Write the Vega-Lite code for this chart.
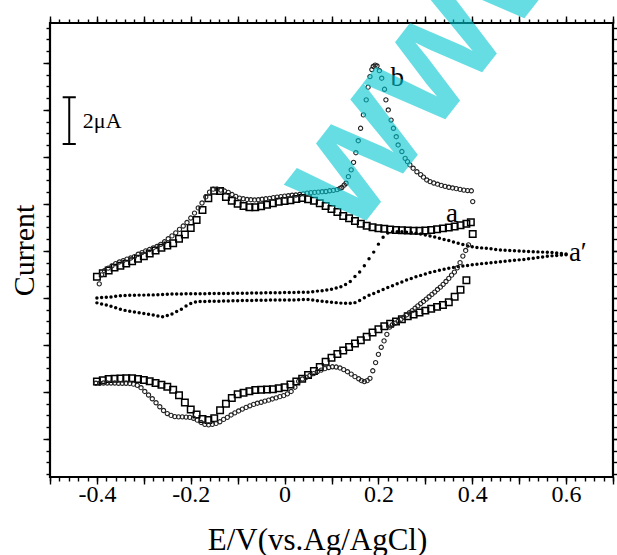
{
  "$schema": "https://vega.github.io/schema/vega-lite/v6.json",
  "width": 563,
  "height": 454,
  "autosize": {"type": "none"},
  "padding": {"left": 50, "top": 23, "right": 4, "bottom": 78},
  "background": "white",
  "config": {
    "view": {"stroke": "black", "strokeWidth": 2.2},
    "axis": {"domain": false, "grid": false, "tickColor": "black", "tickWidth": 1.4, "labelFont": "Liberation Serif", "titleFont": "Liberation Serif", "labelColor": "black", "titleColor": "black", "titleFontWeight": "normal", "labelOverlap": false, "labelFlush": false}
  },
  "resolve": {"axis": {"x": "independent", "y": "independent"}},
  "datasets": {
    "a": [
      {"x":-0.4,"y":-1.10},{"x":-0.3875,"y":-0.95},{"x":-0.375,"y":-0.83},{"x":-0.3625,"y":-0.71},{"x":-0.35,"y":-0.63},{"x":-0.3375,"y":-0.54},{"x":-0.325,"y":-0.44},{"x":-0.3125,"y":-0.33},{"x":-0.3,"y":-0.23},{"x":-0.2875,"y":-0.11},{"x":-0.275,"y":0.02},{"x":-0.2625,"y":0.14},{"x":-0.25,"y":0.23},{"x":-0.2375,"y":0.33},{"x":-0.225,"y":0.52},{"x":-0.2125,"y":0.70},{"x":-0.2,"y":0.98},{"x":-0.1875,"y":1.32},{"x":-0.175,"y":1.74},{"x":-0.1625,"y":2.24},{"x":-0.15,"y":2.56},{"x":-0.1375,"y":2.55},{"x":-0.125,"y":2.30},{"x":-0.1125,"y":2.14},{"x":-0.1,"y":2.01},{"x":-0.0875,"y":1.91},{"x":-0.075,"y":1.86},{"x":-0.0625,"y":1.86},{"x":-0.05,"y":1.90},{"x":-0.0375,"y":1.97},{"x":-0.025,"y":2.03},{"x":-0.0125,"y":2.09},{"x":0,"y":2.13},{"x":0.0125,"y":2.16},{"x":0.025,"y":2.21},{"x":0.0375,"y":2.25},{"x":0.05,"y":2.20},{"x":0.0625,"y":2.14},{"x":0.075,"y":2.03},{"x":0.0875,"y":1.91},{"x":0.1,"y":1.78},{"x":0.1125,"y":1.66},{"x":0.125,"y":1.49},{"x":0.1375,"y":1.39},{"x":0.15,"y":1.27},{"x":0.1625,"y":1.16},{"x":0.175,"y":1.07},{"x":0.1875,"y":1.01},{"x":0.2,"y":0.97},{"x":0.2125,"y":0.94},{"x":0.225,"y":0.91},{"x":0.2375,"y":0.89},{"x":0.25,"y":0.88},{"x":0.2625,"y":0.87},{"x":0.275,"y":0.86},{"x":0.2875,"y":0.86},{"x":0.3,"y":0.87},{"x":0.3125,"y":0.89},{"x":0.325,"y":0.92},{"x":0.3375,"y":0.96},{"x":0.35,"y":1.00},{"x":0.3625,"y":1.04},{"x":0.375,"y":1.09},{"x":0.3875,"y":1.16},{"x":0.397,"y":1.22},
      {"x":0.401,"y":0.72},{"x":0.3875,"y":-1.25},{"x":0.375,"y":-1.65},{"x":0.3625,"y":-1.95},{"x":0.35,"y":-2.18},{"x":0.3375,"y":-2.30},{"x":0.325,"y":-2.38},{"x":0.3125,"y":-2.46},{"x":0.3,"y":-2.54},{"x":0.2875,"y":-2.62},{"x":0.275,"y":-2.71},{"x":0.2625,"y":-2.78},{"x":0.25,"y":-2.91},{"x":0.2375,"y":-3.00},{"x":0.225,"y":-3.10},{"x":0.2125,"y":-3.20},{"x":0.2,"y":-3.33},{"x":0.1875,"y":-3.47},{"x":0.175,"y":-3.65},{"x":0.1625,"y":-3.80},{"x":0.15,"y":-3.94},{"x":0.1375,"y":-4.09},{"x":0.125,"y":-4.24},{"x":0.1125,"y":-4.39},{"x":0.1,"y":-4.55},{"x":0.0875,"y":-4.72},{"x":0.075,"y":-4.94},{"x":0.0625,"y":-5.11},{"x":0.05,"y":-5.28},{"x":0.0375,"y":-5.44},{"x":0.025,"y":-5.56},{"x":0.0125,"y":-5.68},{"x":0,"y":-5.80},{"x":-0.0125,"y":-5.84},{"x":-0.025,"y":-5.89},{"x":-0.0375,"y":-5.90},{"x":-0.05,"y":-5.91},{"x":-0.0625,"y":-5.92},{"x":-0.075,"y":-5.97},{"x":-0.0875,"y":-6.03},{"x":-0.1,"y":-6.10},{"x":-0.1125,"y":-6.26},{"x":-0.125,"y":-6.50},{"x":-0.1375,"y":-6.78},{"x":-0.15,"y":-7.12},{"x":-0.1625,"y":-7.19},{"x":-0.175,"y":-7.15},{"x":-0.1875,"y":-6.96},{"x":-0.2,"y":-6.75},{"x":-0.2125,"y":-6.45},{"x":-0.225,"y":-6.14},{"x":-0.2375,"y":-5.91},{"x":-0.25,"y":-5.78},{"x":-0.2625,"y":-5.69},{"x":-0.275,"y":-5.62},{"x":-0.2875,"y":-5.55},{"x":-0.3,"y":-5.49},{"x":-0.3125,"y":-5.45},{"x":-0.325,"y":-5.42},{"x":-0.3375,"y":-5.42},{"x":-0.35,"y":-5.43},{"x":-0.3625,"y":-5.44},{"x":-0.375,"y":-5.45},{"x":-0.3875,"y":-5.50},{"x":-0.4,"y":-5.56}
    ],
    "ap": [
      {"x":-0.40,"y":-2.00},{"x":-0.39,"y":-1.98},{"x":-0.38,"y":-1.97},{"x":-0.37,"y":-1.96},{"x":-0.36,"y":-1.93},{"x":-0.35,"y":-1.91},{"x":-0.34,"y":-1.90},{"x":-0.33,"y":-1.89},{"x":-0.32,"y":-1.89},{"x":-0.31,"y":-1.88},{"x":-0.30,"y":-1.88},{"x":-0.29,"y":-1.87},{"x":-0.28,"y":-1.87},{"x":-0.27,"y":-1.86},{"x":-0.26,"y":-1.85},{"x":-0.25,"y":-1.84},{"x":-0.24,"y":-1.83},{"x":-0.23,"y":-1.83},{"x":-0.22,"y":-1.83},{"x":-0.21,"y":-1.82},{"x":-0.20,"y":-1.82},{"x":-0.19,"y":-1.82},{"x":-0.18,"y":-1.82},{"x":-0.17,"y":-1.82},{"x":-0.16,"y":-1.81},{"x":-0.15,"y":-1.81},{"x":-0.14,"y":-1.81},{"x":-0.13,"y":-1.81},{"x":-0.12,"y":-1.81},{"x":-0.11,"y":-1.80},{"x":-0.10,"y":-1.80},{"x":-0.09,"y":-1.80},{"x":-0.08,"y":-1.80},{"x":-0.07,"y":-1.79},{"x":-0.06,"y":-1.79},{"x":-0.05,"y":-1.79},{"x":-0.04,"y":-1.78},{"x":-0.03,"y":-1.78},{"x":-0.02,"y":-1.78},{"x":-0.01,"y":-1.78},{"x":0.00,"y":-1.77},{"x":0.01,"y":-1.77},{"x":0.02,"y":-1.77},{"x":0.03,"y":-1.76},{"x":0.04,"y":-1.76},{"x":0.05,"y":-1.76},{"x":0.06,"y":-1.74},{"x":0.07,"y":-1.71},{"x":0.08,"y":-1.69},{"x":0.09,"y":-1.66},{"x":0.10,"y":-1.63},{"x":0.11,"y":-1.58},{"x":0.12,"y":-1.52},{"x":0.13,"y":-1.43},{"x":0.14,"y":-1.30},{"x":0.15,"y":-1.09},{"x":0.16,"y":-0.90},{"x":0.17,"y":-0.63},{"x":0.18,"y":-0.33},{"x":0.19,"y":-0.05},{"x":0.20,"y":0.29},{"x":0.21,"y":0.58},{"x":0.22,"y":0.76},{"x":0.23,"y":0.82},{"x":0.24,"y":0.82},{"x":0.25,"y":0.82},{"x":0.26,"y":0.80},{"x":0.27,"y":0.79},{"x":0.28,"y":0.75},{"x":0.29,"y":0.72},{"x":0.30,"y":0.68},{"x":0.31,"y":0.64},{"x":0.32,"y":0.59},{"x":0.33,"y":0.54},{"x":0.34,"y":0.49},{"x":0.35,"y":0.44},{"x":0.36,"y":0.38},{"x":0.37,"y":0.33},{"x":0.38,"y":0.27},{"x":0.39,"y":0.21},{"x":0.40,"y":0.18},{"x":0.41,"y":0.15},{"x":0.42,"y":0.13},{"x":0.43,"y":0.11},{"x":0.44,"y":0.09},{"x":0.45,"y":0.06},{"x":0.46,"y":0.04},{"x":0.47,"y":0.03},{"x":0.48,"y":0.02},{"x":0.49,"y":0.01},{"x":0.50,"y":0.00},{"x":0.51,"y":-0.01},{"x":0.52,"y":-0.02},{"x":0.53,"y":-0.03},{"x":0.54,"y":-0.04},{"x":0.55,"y":-0.05},{"x":0.56,"y":-0.06},{"x":0.57,"y":-0.07},{"x":0.58,"y":-0.09},{"x":0.59,"y":-0.11},{"x":0.60,"y":-0.13},
      {"x":0.60,"y":-0.16},{"x":0.59,"y":-0.17},{"x":0.58,"y":-0.19},{"x":0.57,"y":-0.21},{"x":0.56,"y":-0.23},{"x":0.55,"y":-0.26},{"x":0.54,"y":-0.28},{"x":0.53,"y":-0.31},{"x":0.52,"y":-0.33},{"x":0.51,"y":-0.36},{"x":0.50,"y":-0.38},{"x":0.49,"y":-0.40},{"x":0.48,"y":-0.42},{"x":0.47,"y":-0.44},{"x":0.46,"y":-0.46},{"x":0.45,"y":-0.48},{"x":0.44,"y":-0.50},{"x":0.43,"y":-0.52},{"x":0.42,"y":-0.54},{"x":0.41,"y":-0.57},{"x":0.40,"y":-0.59},{"x":0.39,"y":-0.62},{"x":0.38,"y":-0.64},{"x":0.37,"y":-0.66},{"x":0.36,"y":-0.70},{"x":0.35,"y":-0.74},{"x":0.34,"y":-0.78},{"x":0.33,"y":-0.82},{"x":0.32,"y":-0.87},{"x":0.31,"y":-0.92},{"x":0.30,"y":-0.98},{"x":0.29,"y":-1.04},{"x":0.28,"y":-1.10},{"x":0.27,"y":-1.17},{"x":0.26,"y":-1.24},{"x":0.25,"y":-1.32},{"x":0.24,"y":-1.40},{"x":0.23,"y":-1.48},{"x":0.22,"y":-1.56},{"x":0.21,"y":-1.64},{"x":0.20,"y":-1.73},{"x":0.19,"y":-1.81},{"x":0.18,"y":-1.89},{"x":0.17,"y":-1.99},{"x":0.16,"y":-2.11},{"x":0.15,"y":-2.20},{"x":0.14,"y":-2.23},{"x":0.13,"y":-2.23},{"x":0.12,"y":-2.22},{"x":0.11,"y":-2.20},{"x":0.10,"y":-2.18},{"x":0.09,"y":-2.16},{"x":0.08,"y":-2.14},{"x":0.07,"y":-2.12},{"x":0.06,"y":-2.09},{"x":0.05,"y":-2.07},{"x":0.04,"y":-2.07},{"x":0.03,"y":-2.08},{"x":0.02,"y":-2.09},{"x":0.01,"y":-2.09},{"x":0.00,"y":-2.09},{"x":-0.01,"y":-2.09},{"x":-0.02,"y":-2.09},{"x":-0.03,"y":-2.09},{"x":-0.04,"y":-2.10},{"x":-0.05,"y":-2.10},{"x":-0.06,"y":-2.10},{"x":-0.07,"y":-2.11},{"x":-0.08,"y":-2.11},{"x":-0.09,"y":-2.11},{"x":-0.10,"y":-2.12},{"x":-0.11,"y":-2.12},{"x":-0.12,"y":-2.13},{"x":-0.13,"y":-2.13},{"x":-0.14,"y":-2.14},{"x":-0.15,"y":-2.14},{"x":-0.16,"y":-2.14},{"x":-0.17,"y":-2.15},{"x":-0.18,"y":-2.15},{"x":-0.19,"y":-2.17},{"x":-0.20,"y":-2.24},{"x":-0.21,"y":-2.34},{"x":-0.22,"y":-2.48},{"x":-0.23,"y":-2.58},{"x":-0.24,"y":-2.68},{"x":-0.25,"y":-2.75},{"x":-0.26,"y":-2.80},{"x":-0.27,"y":-2.77},{"x":-0.28,"y":-2.73},{"x":-0.29,"y":-2.69},{"x":-0.30,"y":-2.66},{"x":-0.31,"y":-2.63},{"x":-0.32,"y":-2.60},{"x":-0.33,"y":-2.57},{"x":-0.34,"y":-2.53},{"x":-0.35,"y":-2.48},{"x":-0.36,"y":-2.42},{"x":-0.37,"y":-2.35},{"x":-0.38,"y":-2.30},{"x":-0.39,"y":-2.26},{"x":-0.40,"y":-2.21}
    ],
    "b": [
      {"x":-0.395,"y":-1.40},{"x":-0.390,"y":-1.02},{"x":-0.384,"y":-0.84},{"x":-0.376,"y":-0.73},{"x":-0.368,"y":-0.64},{"x":-0.360,"y":-0.54},{"x":-0.352,"y":-0.47},{"x":-0.344,"y":-0.41},{"x":-0.336,"y":-0.35},{"x":-0.328,"y":-0.30},{"x":-0.320,"y":-0.24},{"x":-0.312,"y":-0.14},{"x":-0.304,"y":-0.07},{"x":-0.296,"y":0.00},{"x":-0.288,"y":0.06},{"x":-0.280,"y":0.13},{"x":-0.272,"y":0.19},{"x":-0.264,"y":0.28},{"x":-0.256,"y":0.39},{"x":-0.248,"y":0.52},{"x":-0.240,"y":0.64},{"x":-0.232,"y":0.77},{"x":-0.224,"y":0.92},{"x":-0.216,"y":1.06},{"x":-0.208,"y":1.21},{"x":-0.200,"y":1.40},{"x":-0.192,"y":1.61},{"x":-0.184,"y":1.83},{"x":-0.176,"y":2.04},{"x":-0.168,"y":2.30},{"x":-0.160,"y":2.50},{"x":-0.152,"y":2.63},{"x":-0.144,"y":2.63},{"x":-0.136,"y":2.59},{"x":-0.128,"y":2.55},{"x":-0.120,"y":2.49},{"x":-0.112,"y":2.40},{"x":-0.104,"y":2.32},{"x":-0.096,"y":2.25},{"x":-0.088,"y":2.22},{"x":-0.080,"y":2.19},{"x":-0.072,"y":2.18},{"x":-0.064,"y":2.17},{"x":-0.056,"y":2.18},{"x":-0.048,"y":2.20},{"x":-0.040,"y":2.22},{"x":-0.032,"y":2.24},{"x":-0.024,"y":2.27},{"x":-0.016,"y":2.29},{"x":-0.008,"y":2.31},{"x":0.000,"y":2.33},{"x":0.008,"y":2.35},{"x":0.016,"y":2.37},{"x":0.024,"y":2.38},{"x":0.032,"y":2.40},{"x":0.040,"y":2.43},{"x":0.048,"y":2.46},{"x":0.056,"y":2.48},{"x":0.064,"y":2.49},{"x":0.072,"y":2.50},{"x":0.080,"y":2.52},{"x":0.088,"y":2.53},{"x":0.096,"y":2.56},{"x":0.104,"y":2.58},{"x":0.112,"y":2.61},{"x":0.118,"y":2.66},{"x":0.122,"y":2.70},{"x":0.127,"y":2.80},{"x":0.131,"y":2.88},{"x":0.136,"y":3.16},{"x":0.142,"y":3.45},{"x":0.147,"y":3.77},{"x":0.152,"y":4.18},{"x":0.157,"y":4.69},{"x":0.162,"y":5.22},{"x":0.168,"y":5.79},{"x":0.174,"y":6.43},{"x":0.178,"y":6.97},{"x":0.182,"y":7.42},{"x":0.186,"y":7.72},{"x":0.189,"y":7.85},{"x":0.193,"y":7.91},{"x":0.197,"y":7.87},{"x":0.202,"y":7.67},{"x":0.207,"y":7.35},{"x":0.213,"y":6.88},{"x":0.216,"y":6.43},{"x":0.221,"y":6.00},{"x":0.227,"y":5.57},{"x":0.232,"y":5.22},{"x":0.238,"y":4.86},{"x":0.242,"y":4.51},{"x":0.250,"y":4.23},{"x":0.257,"y":3.94},{"x":0.262,"y":3.80},{"x":0.267,"y":3.66},{"x":0.274,"y":3.52},{"x":0.282,"y":3.37},{"x":0.290,"y":3.25},{"x":0.296,"y":3.14},{"x":0.303,"y":3.02},{"x":0.310,"y":2.95},{"x":0.318,"y":2.89},{"x":0.326,"y":2.84},{"x":0.334,"y":2.79},{"x":0.342,"y":2.75},{"x":0.350,"y":2.71},{"x":0.358,"y":2.68},{"x":0.366,"y":2.65},{"x":0.374,"y":2.62},{"x":0.382,"y":2.59},{"x":0.390,"y":2.57},{"x":0.398,"y":2.56},{"x":0.401,"y":2.10},
      {"x":0.392,"y":0.26},{"x":0.386,"y":0.02},{"x":0.380,"y":-0.22},{"x":0.374,"y":-0.50},{"x":0.368,"y":-0.72},{"x":0.362,"y":-0.90},{"x":0.356,"y":-1.03},{"x":0.350,"y":-1.17},{"x":0.344,"y":-1.30},{"x":0.338,"y":-1.42},{"x":0.332,"y":-1.54},{"x":0.326,"y":-1.64},{"x":0.320,"y":-1.75},{"x":0.314,"y":-1.85},{"x":0.308,"y":-1.95},{"x":0.302,"y":-2.05},{"x":0.296,"y":-2.15},{"x":0.290,"y":-2.24},{"x":0.284,"y":-2.34},{"x":0.278,"y":-2.44},{"x":0.272,"y":-2.54},{"x":0.266,"y":-2.63},{"x":0.260,"y":-2.72},{"x":0.254,"y":-2.82},{"x":0.248,"y":-2.91},{"x":0.242,"y":-3.00},{"x":0.236,"y":-3.07},{"x":0.230,"y":-3.14},{"x":0.224,"y":-3.24},{"x":0.218,"y":-3.55},{"x":0.212,"y":-3.83},{"x":0.206,"y":-4.10},{"x":0.200,"y":-4.40},{"x":0.194,"y":-4.75},{"x":0.188,"y":-5.10},{"x":0.182,"y":-5.42},{"x":0.176,"y":-5.52},{"x":0.170,"y":-5.56},{"x":0.164,"y":-5.52},{"x":0.158,"y":-5.44},{"x":0.150,"y":-5.35},{"x":0.142,"y":-5.24},{"x":0.134,"y":-5.14},{"x":0.126,"y":-5.05},{"x":0.118,"y":-4.98},{"x":0.110,"y":-4.94},{"x":0.102,"y":-4.93},{"x":0.094,"y":-4.96},{"x":0.086,"y":-5.01},{"x":0.078,"y":-5.07},{"x":0.070,"y":-5.13},{"x":0.062,"y":-5.22},{"x":0.054,"y":-5.30},{"x":0.046,"y":-5.38},{"x":0.038,"y":-5.45},{"x":0.030,"y":-5.55},{"x":0.022,"y":-5.80},{"x":0.014,"y":-5.98},{"x":0.006,"y":-6.08},{"x":-0.002,"y":-6.16},{"x":-0.010,"y":-6.20},{"x":-0.018,"y":-6.25},{"x":-0.026,"y":-6.30},{"x":-0.034,"y":-6.35},{"x":-0.042,"y":-6.39},{"x":-0.050,"y":-6.44},{"x":-0.058,"y":-6.48},{"x":-0.066,"y":-6.53},{"x":-0.074,"y":-6.59},{"x":-0.082,"y":-6.66},{"x":-0.090,"y":-6.73},{"x":-0.098,"y":-6.81},{"x":-0.106,"y":-6.89},{"x":-0.114,"y":-6.98},{"x":-0.122,"y":-7.08},{"x":-0.130,"y":-7.17},{"x":-0.138,"y":-7.27},{"x":-0.146,"y":-7.34},{"x":-0.154,"y":-7.38},{"x":-0.162,"y":-7.40},{"x":-0.170,"y":-7.38},{"x":-0.178,"y":-7.30},{"x":-0.186,"y":-7.20},{"x":-0.194,"y":-7.12},{"x":-0.202,"y":-7.08},{"x":-0.210,"y":-7.07},{"x":-0.218,"y":-7.06},{"x":-0.226,"y":-7.06},{"x":-0.234,"y":-7.05},{"x":-0.242,"y":-7.00},{"x":-0.250,"y":-6.92},{"x":-0.258,"y":-6.79},{"x":-0.266,"y":-6.63},{"x":-0.274,"y":-6.46},{"x":-0.282,"y":-6.29},{"x":-0.290,"y":-6.13},{"x":-0.298,"y":-5.98},{"x":-0.306,"y":-5.82},{"x":-0.314,"y":-5.72},{"x":-0.322,"y":-5.67},{"x":-0.330,"y":-5.64},{"x":-0.338,"y":-5.63},{"x":-0.346,"y":-5.63},{"x":-0.354,"y":-5.63},{"x":-0.362,"y":-5.62},{"x":-0.370,"y":-5.62},{"x":-0.378,"y":-5.62},{"x":-0.386,"y":-5.62},{"x":-0.394,"y":-5.63},{"x":-0.402,"y":-5.63}
    ],
    "labels": [
      {"x":0.240,"y":7.36,"text":"b"},
      {"x":0.357,"y":1.57,"text":"a"},
      {"x":0.625,"y":-0.10,"text":"a′"}
    ],
    "barv": [{"x":-0.459,"y":4.55,"y2":6.54}],
    "barh": [{"x":-0.473,"x2":-0.445,"y":6.54},{"x":-0.473,"x2":-0.445,"y":4.55}],
    "bartext": [{"x":-0.430,"y":5.53,"text":"2μA"}],
    "mark": [{"x":0.314,"y":8.32,"text":"www"}]
  },
  "layer": [
    {
      "data": {"name": "a"},
      "mark": {"type": "point", "shape": "square", "filled": false, "size": 42, "stroke": "black", "strokeWidth": 1.5, "opacity": 1},
      "encoding": {
        "x": {"field": "x", "type": "quantitative", "scale": {"domain": [-0.5, 0.7], "nice": false, "zero": false},
          "axis": {"orient": "bottom", "values": [-0.5,-0.4,-0.3,-0.2,-0.1,0,0.1,0.2,0.3,0.4,0.5,0.6,0.7], "tickSize": 7,
            "labelExpr": "(abs(round(datum.value*10)) % 2 == 0) ? (abs(datum.value) < 0.001 ? '0' : (datum.value < 0 ? '-' : '') + format(abs(datum.value), '.1f')) : ''",
            "labelFontSize": 24, "labelBaseline": "alphabetic", "labelPadding": 17,
            "title": "E/V(vs.Ag/AgCl)", "titleFontSize": 31, "titleBaseline": "alphabetic", "titleY": 72, "titleX": 267}},
        "y": {"field": "y", "type": "quantitative", "scale": {"domain": [-9.62, 9.7], "nice": false, "zero": false},
          "axis": {"orient": "left", "values": [-8,-6,-4,-2,0,2,4,6,8], "tickSize": 7, "labels": false,
            "title": "Current", "titleFontSize": 30, "titleBaseline": "alphabetic", "titleX": -17}}
      }
    },
    {
      "data": {"name": "ap"},
      "mark": {"type": "point", "shape": "circle", "filled": true, "size": 12, "color": "black", "opacity": 1},
      "encoding": {
        "x": {"field": "x", "type": "quantitative", "scale": {"domain": [-0.5, 0.7], "nice": false, "zero": false},
          "axis": {"orient": "bottom", "values": [-0.5,-0.48,-0.46,-0.44,-0.42,-0.4,-0.38,-0.36,-0.34,-0.32,-0.3,-0.28,-0.26,-0.24,-0.22,-0.2,-0.18,-0.16,-0.14,-0.12,-0.1,-0.08,-0.06,-0.04,-0.02,0,0.02,0.04,0.06,0.08,0.1,0.12,0.14,0.16,0.18,0.2,0.22,0.24,0.26,0.28,0.3,0.32,0.34,0.36,0.38,0.4,0.42,0.44,0.46,0.48,0.5,0.52,0.54,0.56,0.58,0.6,0.62,0.64,0.66,0.68,0.7], "tickSize": 4, "labels": false, "title": null}},
        "y": {"field": "y", "type": "quantitative", "scale": {"domain": [-9.62, 9.7], "nice": false, "zero": false},
          "axis": {"orient": "left", "values": [-9.5,-9,-8.5,-8,-7.5,-7,-6.5,-6,-5.5,-5,-4.5,-4,-3.5,-3,-2.5,-2,-1.5,-1,-0.5,0,0.5,1,1.5,2,2.5,3,3.5,4,4.5,5,5.5,6,6.5,7,7.5,8,8.5,9,9.5], "tickSize": 4, "labels": false, "title": null}}
      }
    },
    {
      "data": {"name": "b"},
      "mark": {"type": "point", "shape": "circle", "filled": false, "size": 18, "stroke": "#222", "strokeWidth": 1.1, "opacity": 1},
      "encoding": {
        "x": {"field": "x", "type": "quantitative", "scale": {"domain": [-0.5, 0.7], "nice": false, "zero": false},
          "axis": {"orient": "top", "values": [-0.5,-0.4,-0.3,-0.2,-0.1,0,0.1,0.2,0.3,0.4,0.5,0.6,0.7], "tickSize": 7, "labels": false, "title": null}},
        "y": {"field": "y", "type": "quantitative", "scale": {"domain": [-9.62, 9.7], "nice": false, "zero": false},
          "axis": {"orient": "right", "values": [-8,-6,-4,-2,0,2,4,6,8], "tickSize": 7, "labels": false, "title": null}}
      }
    },
    {
      "data": {"name": "labels"},
      "mark": {"type": "text", "font": "Liberation Serif", "fontSize": 27, "color": "black", "align": "center", "baseline": "middle"},
      "encoding": {
        "x": {"field": "x", "type": "quantitative", "scale": {"domain": [-0.5, 0.7], "nice": false, "zero": false},
          "axis": {"orient": "top", "values": [-0.5,-0.48,-0.46,-0.44,-0.42,-0.4,-0.38,-0.36,-0.34,-0.32,-0.3,-0.28,-0.26,-0.24,-0.22,-0.2,-0.18,-0.16,-0.14,-0.12,-0.1,-0.08,-0.06,-0.04,-0.02,0,0.02,0.04,0.06,0.08,0.1,0.12,0.14,0.16,0.18,0.2,0.22,0.24,0.26,0.28,0.3,0.32,0.34,0.36,0.38,0.4,0.42,0.44,0.46,0.48,0.5,0.52,0.54,0.56,0.58,0.6,0.62,0.64,0.66,0.68,0.7], "tickSize": 4, "labels": false, "title": null}},
        "y": {"field": "y", "type": "quantitative", "scale": {"domain": [-9.62, 9.7], "nice": false, "zero": false},
          "axis": {"orient": "right", "values": [-9.5,-9,-8.5,-8,-7.5,-7,-6.5,-6,-5.5,-5,-4.5,-4,-3.5,-3,-2.5,-2,-1.5,-1,-0.5,0,0.5,1,1.5,2,2.5,3,3.5,4,4.5,5,5.5,6,6.5,7,7.5,8,8.5,9,9.5], "tickSize": 4, "labels": false, "title": null}},
        "text": {"field": "text"}
      }
    },
    {
      "data": {"name": "barv"},
      "mark": {"type": "rule", "color": "black", "strokeWidth": 2},
      "encoding": {
        "x": {"field": "x", "type": "quantitative", "axis": null},
        "y": {"field": "y", "type": "quantitative", "axis": null},
        "y2": {"field": "y2"}
      }
    },
    {
      "data": {"name": "barh"},
      "mark": {"type": "rule", "color": "black", "strokeWidth": 2},
      "encoding": {
        "x": {"field": "x", "type": "quantitative", "axis": null},
        "x2": {"field": "x2"},
        "y": {"field": "y", "type": "quantitative", "axis": null}
      }
    },
    {
      "data": {"name": "bartext"},
      "mark": {"type": "text", "font": "Liberation Serif", "fontSize": 22, "color": "black", "align": "left", "baseline": "middle"},
      "encoding": {
        "x": {"field": "x", "type": "quantitative", "axis": null},
        "y": {"field": "y", "type": "quantitative", "axis": null},
        "text": {"field": "text"}
      }
    },
    {
      "data": {"name": "mark"},
      "mark": {"type": "text", "font": "Liberation Sans", "fontWeight": "bold", "fontSize": 165, "color": "#00c8d2", "opacity": 0.6, "angle": 308, "align": "center", "baseline": "middle"},
      "encoding": {
        "x": {"field": "x", "type": "quantitative", "axis": null},
        "y": {"field": "y", "type": "quantitative", "axis": null},
        "text": {"field": "text"}
      }
    }
  ]
}
